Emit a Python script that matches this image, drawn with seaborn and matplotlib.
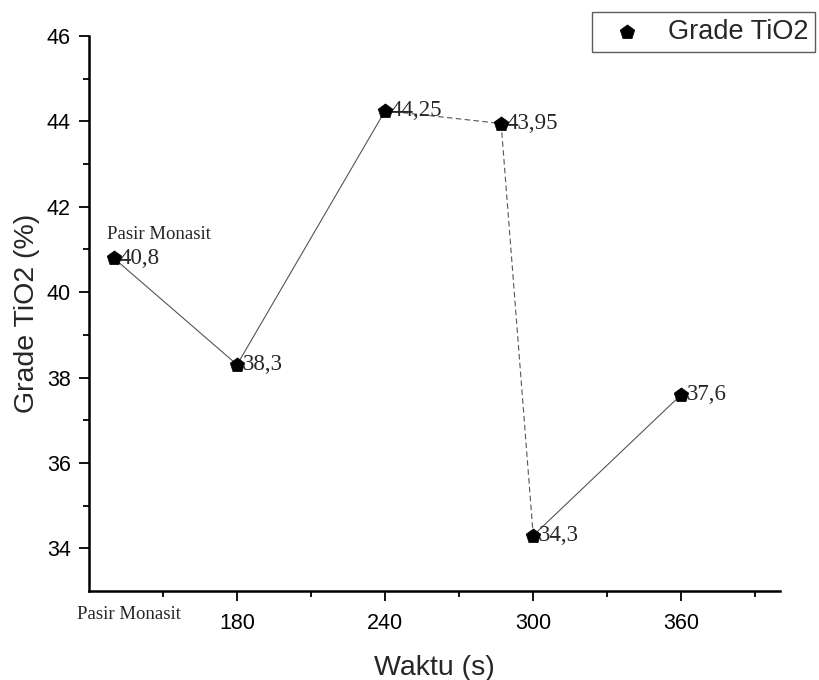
import matplotlib
matplotlib.use("Agg")
import matplotlib.pyplot as plt
import matplotlib.transforms as mtransforms
import numpy as np
import pandas as pd
import seaborn as sns

# Waktu (s) and TiO2 grade (%) for each sample; the first one is the raw monazite sand
waktu = [130, 180, 240, 287, 300, 360]
grade = [40.8, 38.3, 44.25, 43.95, 34.3, 37.6]
value_labels = ["40,8", "38,3", "44,25", "43,95", "34,3", "37,6"]
# line style of the segment that joins point i to point i+1
segment_styles = ["solid", "solid", "dashed", "dashed", "solid"]

x_major = [180, 240, 300, 360]
x_major_labels = ["180", "240", "300", "360"]
y_major = [34, 36, 38, 40, 42, 44, 46]
raw_label = "Pasir Monasit"
series_name = "Grade TiO2"

sns.set_theme(style="ticks")
plt.rcParams["font.family"] = ["Liberation Sans", "DejaVu Sans"]

fig = plt.figure(figsize=(8.2, 6.8), dpi=100)
ax = fig.add_axes([89 / 820, 1 - 591 / 680, (780 - 89) / 820, (591 - 36) / 680])

# connecting segments, each with its own dash style
rows = []
for i, kind in enumerate(segment_styles):
    for j in (i, i + 1):
        rows.append({"waktu": waktu[j], "grade": grade[j], "seg": i, "kind": kind})
seg_df = pd.DataFrame(rows)
sns.lineplot(data=seg_df, x="waktu", y="grade", units="seg", style="kind",
             estimator=None, dashes={"solid": "", "dashed": (5, 3)},
             color="#555555", linewidth=0.8, legend=False, ax=ax, sort=False)

pts = pd.DataFrame({"waktu": waktu, "grade": grade})
sns.scatterplot(data=pts, x="waktu", y="grade", marker="p", s=120,
                color="black", edgecolor="black", linewidth=0.5,
                label=series_name, ax=ax, zorder=5)

serif = ["Liberation Serif", "DejaVu Serif"]
for xv, yv, txt in zip(waktu, grade, value_labels):
    ax.annotate(txt, (xv, yv), xytext=(4, 0), textcoords="offset points",
                ha="left", va="center", fontsize=16.5, family=serif)
ax.annotate(raw_label, (waktu[0], grade[0]), xytext=(-5, 17),
            textcoords="offset points", ha="left", va="center",
            fontsize=13.5, family=serif)

ax.set_xlim(120, 400)
ax.set_ylim(33, 46)
ax.set_xticks(x_major)
ax.set_xticklabels(x_major_labels)
ax.set_xticks(np.arange(150, 400, 60), minor=True)
ax.set_yticks(y_major)
ax.set_yticks(np.arange(35, 46, 2), minor=True)

# label for the raw sand sample below the axis
trans = mtransforms.blended_transform_factory(ax.transData, ax.transAxes)
ax.text(136, -0.043, raw_label, transform=trans, ha="center", va="center",
        fontsize=13.5, family=serif)

ax.tick_params(axis="both", which="major", direction="out", length=7,
               width=1.3, labelsize=15.5, color="black", labelcolor="black")
ax.tick_params(axis="x", which="major", pad=9)
ax.tick_params(axis="y", which="major", pad=6)
ax.tick_params(axis="both", which="minor", direction="out", length=4,
               width=1.3, color="black")
for side in ("left", "bottom"):
    ax.spines[side].set_linewidth(1.8)
    ax.spines[side].set_color("black")
sns.despine(ax=ax)

ax.set_xlabel("Waktu (s)", fontsize=20.5, labelpad=15)
ax.set_ylabel("Grade TiO2 (%)", fontsize=20.5, labelpad=5)

leg = ax.legend(loc="upper left", bbox_to_anchor=(592 / 820, 1 - 12 / 680),
                bbox_transform=fig.transFigure, frameon=True, fancybox=False,
                fontsize=19.5, handletextpad=0.45, borderpad=0.25,
                handlelength=2.1, borderaxespad=0)
leg.get_frame().set_edgecolor("#333333")
leg.get_frame().set_linewidth(1.0)

fig.savefig("out.png", dpi=100)
